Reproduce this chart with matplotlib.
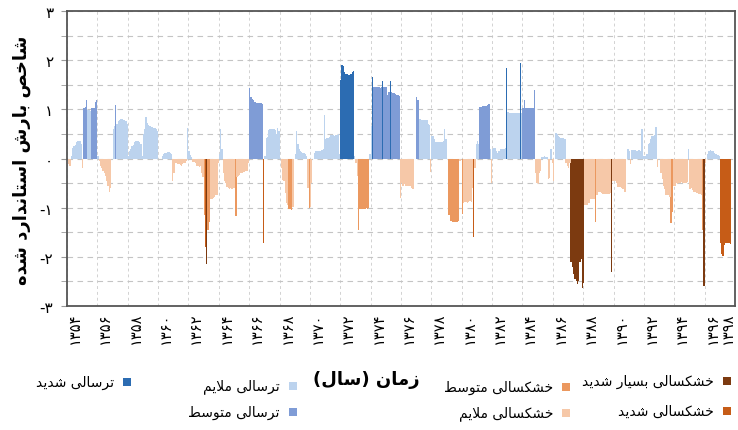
import numpy as np
import matplotlib
matplotlib.use('Agg')
import matplotlib.pyplot as plt
from matplotlib.patches import Rectangle

# شاخص بارش استاندارد شده (SPI) - مقادیر ماهانه، هر سطر یک سال
spi_1354_1362 = [
    0, -0.12, -0.15, 0.05, 0.22, 0.25, 0.28, 0.33, 0.35, 0.35, 0.35, 0.3,          # 1354
    -0.2, 1.03, 1.05, 1.18, 0.98, 0.98, 0.97, 1.02, 1.02, 1.03, 1.15, 1.18,        # 1355
    0.05, -0.05, -0.15, -0.2, -0.25, -0.3, -0.35, -0.45, -0.55, -0.68, -0.6, 0.0,  # 1356
    0.6, 0.67, 1.08, 0.7, 0.76, 0.78, 0.8, 0.8, 0.79, 0.78, 0.76, 0.7,             # 1357
    0.05, 0.15, 0.2, 0.25, 0.28, 0.33, 0.35, 0.36, 0.35, 0.33, 0.3, 0.05,          # 1358
    0.5, 0.6, 0.85, 0.72, 0.68, 0.66, 0.65, 0.64, 0.63, 0.62, 0.6, 0.55,           # 1359
    0, 0, 0, 0.05, 0.1, 0.12, 0.12, 0.13, 0.13, 0.12, 0.1, -0.45,                  # 1360
    -0.3, -0.1, -0.1, -0.12, -0.12, -0.13, -0.15, -0.12, -0.1, -0.1, -0.05, 0.62,  # 1361
    0.15, 0.08, 0.03, -0.08, -0.08, -0.1, -0.15, -0.15, -0.18, -0.15, -0.3, -0.38, # 1362
]
spi_1363_1371 = [
    -1.15, -1.8, -2.15, -1.45, -1.3, -0.82, -0.82, -0.8, -0.78, -0.75, -0.75, -0.1,  # 1363
    0.1, 0.6, 0.2, -0.3, -0.45, -0.5, -0.58, -0.6, -0.62, -0.6, -0.62, -0.6,         # 1364
    -0.6, -1.17, -0.37, -0.35, -0.33, -0.3, -0.3, -0.28, -0.28, -0.25, -0.25, -0.1,  # 1365
    1.43, 1.25, 1.22, 1.2, 1.15, 1.13, 1.13, 1.12, 1.12, 1.12, 1.1, -1.72,           # 1366
    0.05, 0.42, 0.43, 0.58, 0.6, 0.61, 0.6, 0.6, 0.58, 0.5, 0.62, 0.55,              # 1367
    0, -0.2, -0.43, -0.45, -0.7, -0.9, -0.95, -1.02, -1.03, -1.05, -0.98, 0.0,       # 1368
    0.1, 0.56, 0.3, 0.2, 0.15, 0.13, 0.12, 0.12, 0.1, 0.05, -0.6, -1.0,              # 1369
    -0.98, -0.5, 0.0, 0.12, 0.15, 0.15, 0.15, 0.15, 0.16, 0.17, 0.2, 0.89,           # 1370
    0.4, 0.42, 0.42, 0.44, 0.47, 0.47, 0.47, 0.46, 0.47, 0.48, 0.5, 0.1,             # 1371
]
spi_1372_1380 = [
    1.6, 1.9, 1.88, 1.75, 1.72, 1.72, 1.7, 1.7, 1.72, 1.75, 1.78, 0.05,              # 1372
    -0.1, -0.35, -1.46, -1.02, -1.02, -1.03, -1.02, -1.02, -1.01, -1.03, -1.0, 0.1,  # 1373
    0.67, 1.66, 1.46, 1.46, 1.45, 1.46, 1.45, 1.44, 1.46, 1.57, 1.45, 1.46,          # 1374
    1.45, 1.3, 1.35, 1.57, 1.35, 1.33, 1.33, 1.32, 1.3, 1.3, 1.28, -0.8,             # 1375
    -0.5, -0.55, -0.52, -0.55, -0.55, -0.55, -0.55, -0.56, -0.6, -0.62, 0.0, 0.0,    # 1376
    1.26, 1.2, 0.8, 0.8, 0.79, 0.79, 0.79, 0.78, 0.78, 0.7, 0.69, -0.28,             # 1377
    0.45, 0.46, 0.4, 0.34, 0.34, 0.33, 0.34, 0.34, 0.33, 0.35, 0.59, 0.4,            # 1378
    0.0, -1.15, -1.15, -1.28, -1.29, -1.29, -1.3, -1.29, -1.3, -1.28, -0.05, 0.0,    # 1379
    -1.12, -0.9, -0.88, -0.89, -0.9, -0.88, -0.87, -0.88, -0.6, -1.59, -0.2, 0.3,    # 1380
]
spi_1381_1389 = [
    0.35, 0.3, 1.05, 1.05, 1.06, 1.06, 1.06, 1.07, 1.08, 1.1, 0.2, -0.5,             # 1381
    0.2, 0.22, 0.22, 0.15, 0.12, 0.15, 0.19, 0.2, 0.2, 0.2, 0.22, 1.85,              # 1382
    0.95, 0.93, 0.93, 0.93, 0.93, 0.92, 0.92, 0.93, 0.92, 0.92, 1.95, 0.93,          # 1383
    1.02, 1.18, 1.03, 1.02, 1.02, 1.02, 1.03, 1.02, 1.02, 1.4, -0.3, -0.5,           # 1384
    -0.52, -0.3, -0.25, 0.03, 0.04, 0.05, 0.04, 0.03, -0.42, -0.4, 0.19, -0.1,       # 1385
    -0.45, 0.0, 0.52, 0.5, 0.45, 0.43, 0.42, 0.42, 0.42, 0.4, -0.1, -0.15,           # 1386
    -0.2, -0.1, -2.1, -2.2, -2.35, -2.45, -2.5, -2.55, -2.5, -2.1, -2.05, -2.63,     # 1387
    -2.53, -0.95, -0.95, -0.95, -0.9, -0.82, -0.82, -0.82, -0.82, -1.29, -0.75, -0.75,  # 1388
    -0.68, -0.68, -0.7, -0.72, -0.72, -0.72, -0.73, -0.72, -0.72, -0.7, -2.3, -0.45,    # 1389
]
spi_1390_1397 = [
    -0.45, -0.45, -0.5, -0.58, -0.58, -0.58, -0.6, -0.62, -0.68, -0.68, 0.0, 0.19,   # 1390
    0.15, -0.12, 0.17, 0.18, 0.17, 0.17, 0.16, 0.17, 0.18, 0.15, 0.59, 0.05,         # 1391
    0.05, 0.05, 0.1, 0.3, 0.32, 0.4, 0.45, 0.45, 0.47, 0.64, -0.18, 0.0,             # 1392
    0.0, -0.3, -0.42, -0.55, -0.62, -0.75, -0.75, -0.75, -0.78, -1.32, -1.09, -0.55, # 1393
    -0.55, -0.5, -0.52, -0.5, -0.5, -0.48, -0.5, -0.5, -0.5, -0.5, -0.48, 0.19,      # 1394
    -0.62, -0.6, -0.65, -0.68, -0.68, -0.7, -0.7, -0.72, -0.72, -0.75, -1.46, -2.6,  # 1395
    -0.1, 0.0, 0.1, 0.15, 0.17, 0.16, 0.15, 0.12, 0.1, 0.1, 0.08, 0.05,              # 1396
    -1.72, -1.95, -1.99, -1.75, -1.72, -1.72, -1.72, -1.72, -1.73, 0, 0, 0,          # 1397
]

start_year = 1354
end_year = 1398
year_ticks = list(range(1354, 1399, 2))
y_ticks = [-3, -2, -1, 0, 1, 2, 3]

# طبقه ها: (حد پایین, حد بالا, رنگ, برچسب)
classes = [
    (-9, -2.0, '#7c3a10', 'خشکسالی بسیار شدید'),
    (-2.0, -1.5, '#c65c17', 'خشکسالی شدید'),
    (-1.5, -1.0, '#eb985f', 'خشکسالی متوسط'),
    (-1.0, 0.0, '#f6c8a8', 'خشکسالی ملایم'),
    (0.0, 1.0, '#bcd3ee', 'ترسالی ملایم'),
    (1.0, 1.5, '#7f9cd6', 'ترسالی متوسط'),
    (1.5, 9, '#2c6cb2', 'ترسالی شدید'),
]

# ---- شکل دادن حروف فارسی (matplotlib خودش حروف را به هم نمی چسباند)
FORMS = {
    'ا': ('\uFE8D', '\uFE8E', None, None),
    'ب': ('\uFE8F', '\uFE90', '\uFE91', '\uFE92'),
    'ت': ('\uFE95', '\uFE96', '\uFE97', '\uFE98'),
    'خ': ('\uFEA5', '\uFEA6', '\uFEA7', '\uFEA8'),
    'د': ('\uFEA9', '\uFEAA', None, None),
    'ر': ('\uFEAD', '\uFEAE', None, None),
    'ز': ('\uFEAF', '\uFEB0', None, None),
    'س': ('\uFEB1', '\uFEB2', '\uFEB3', '\uFEB4'),
    'ش': ('\uFEB5', '\uFEB6', '\uFEB7', '\uFEB8'),
    'ص': ('\uFEB9', '\uFEBA', '\uFEBB', '\uFEBC'),
    'ط': ('\uFEC1', '\uFEC2', '\uFEC3', '\uFEC4'),
    'ل': ('\uFEDD', '\uFEDE', '\uFEDF', '\uFEE0'),
    'م': ('\uFEE1', '\uFEE2', '\uFEE3', '\uFEE4'),
    'ن': ('\uFEE5', '\uFEE6', '\uFEE7', '\uFEE8'),
    'ه': ('\uFEE9', '\uFEEA', '\uFEEB', '\uFEEC'),
    'و': ('\uFEED', '\uFEEE', None, None),
    'ی': ('\uFBFC', '\uFBFD', '\uFBFE', '\uFBFF'),
    'ک': ('\uFB8E', '\uFB8F', '\uFB90', '\uFB91'),
}


def fa(text):
    out = []
    i = 0
    n = len(text)
    while i < n:
        c = text[i]
        if c not in FORMS:
            out.append(c)
            i += 1
            continue
        prev = text[i - 1] if i > 0 else ''
        jp = prev in FORMS and FORMS[prev][2] is not None
        if c == 'ل' and i + 1 < n and text[i + 1] == 'ا':
            out.append('\uFEFC' if jp else '\uFEFB')
            i += 2
            continue
        nxt = text[i + 1] if i + 1 < n else ''
        jn = FORMS[c][2] is not None and nxt in FORMS
        f = FORMS[c]
        if jp and jn:
            out.append(f[3])
        elif jp:
            out.append(f[1])
        elif jn:
            out.append(f[2])
        else:
            out.append(f[0])
        i += 1
    vis = ''.join(reversed(out))
    return vis.translate(str.maketrans('()', ')('))


def fa_num(v):
    return str(v).translate(str.maketrans('0123456789', '۰۱۲۳۴۵۶۷۸۹'))


spi = np.array(spi_1354_1362 + spi_1363_1371 + spi_1372_1380 + spi_1381_1389 + spi_1390_1397)
x = start_year + (np.arange(len(spi)) + 0.5) / 12.0

W, H = 738, 431
fig = plt.figure(figsize=(W / 100, H / 100), dpi=100)
ax = fig.add_axes([67 / W, 1 - 307 / H, (735 - 67) / W, (307 - 12) / H])

for lo, hi, col, lab in classes:
    if lo < 0:
        m = (spi > lo) & (spi <= hi) & (spi != 0)
    else:
        m = (spi > lo) & (spi < hi)
    ax.bar(x[m], spi[m], width=1.06 / 12, color=col, linewidth=0, zorder=3)

ax.set_xlim(start_year, end_year)
ax.set_ylim(-3, 3)
ax.set_yticks(y_ticks)
ax.set_yticklabels([fa_num(v) if v >= 0 else '-' + fa_num(-v) for v in y_ticks], fontsize=11)
ax.set_yticks(np.arange(-3, 3.01, 0.5), minor=True)
ax.set_xticks(year_ticks)
ax.set_xticklabels([fa_num(y) for y in year_ticks], rotation=90, fontsize=10.5, ha='left')
ax.get_xticklabels()[-1].set_horizontalalignment('right')

ax.yaxis.grid(True, which='both', linestyle=(0, (5, 4)), color='#c4c4c4', linewidth=0.8, zorder=0)
ax.xaxis.grid(True, which='major', linestyle=(0, (3, 3)), color='#d2d2d2', linewidth=0.7, zorder=0)
ax.tick_params(axis='y', which='both', length=4, color='#999999', pad=6)
ax.tick_params(axis='x', length=0, pad=4)
for s in ax.spines.values():
    s.set_color('#555555')
    s.set_linewidth(1.3)

fig.text(22 / W, 1 - 160 / H, fa('شاخص بارش استاندارد شده'), rotation=90,
         ha='center', va='center', fontsize=13, fontweight='bold')
fig.text(366 / W, 1 - 380 / H, fa('زمان (سال)'), ha='center', va='center',
         fontsize=13, fontweight='bold')

# راهنما (مربع در سمت راست متن)
legend_pos = {
    'خشکسالی بسیار شدید': (727, 382),
    'خشکسالی شدید': (727, 412),
    'خشکسالی متوسط': (566, 388),
    'خشکسالی ملایم': (566, 414),
    'ترسالی ملایم': (293, 387),
    'ترسالی متوسط': (293, 413),
    'ترسالی شدید': (127, 383),
}
sq = 8
for lo, hi, col, lab in classes:
    px, py = legend_pos[lab]
    fig.add_artist(Rectangle(((px - sq / 2) / W, 1 - (py + sq / 2) / H), sq / W, sq / H,
                             transform=fig.transFigure, color=col, linewidth=0))
    fig.text((px - 13) / W, 1 - py / H, fa(lab), ha='right', va='center', fontsize=10)

fig.savefig('out.png', dpi=100)
